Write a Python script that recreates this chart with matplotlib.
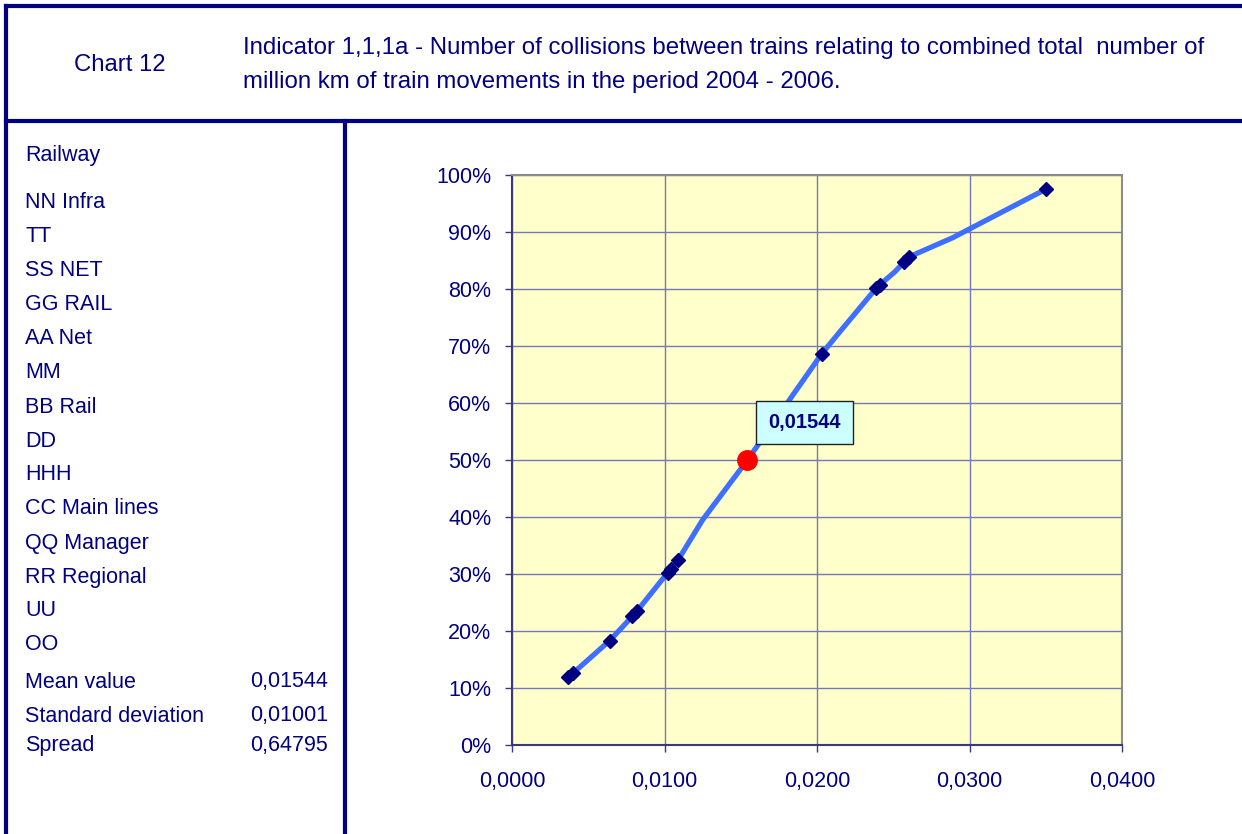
import matplotlib
matplotlib.use('Agg')
import matplotlib.pyplot as plt
from matplotlib.lines import Line2D
from matplotlib.ticker import FuncFormatter, MultipleLocator

plt.rcParams['font.family'] = ['Liberation Sans', 'DejaVu Sans']

navy = '#000080'

railways = ['NN Infra', 'TT', 'SS NET', 'GG RAIL', 'AA Net', 'MM', 'BB Rail',
            'DD', 'HHH', 'CC Main lines', 'QQ Manager', 'RR Regional', 'UU', 'OO']
stat_names = ['Mean value', 'Standard deviation', 'Spread']
stat_values = ['0,01544', '0,01001', '0,64795']

# collisions per million train-km, sorted, and cumulative share (%)
coll_rate = [0.0037, 0.0040, 0.0064, 0.0079, 0.0082, 0.0102, 0.0104,
             0.0109, 0.0203, 0.0239, 0.0241, 0.0257, 0.0260, 0.0350]
cum_share = [12.0, 12.6, 18.3, 22.6, 23.5, 30.2, 30.8,
             32.5, 68.6, 80.2, 80.7, 84.7, 85.6, 97.5]

# vertices of the distribution curve
curve_x = [0.0037, 0.0040, 0.0064, 0.0079, 0.0082, 0.0102, 0.0104, 0.0109,
           0.0125, 0.01544, 0.0180, 0.0203, 0.0215, 0.0239, 0.0241, 0.0251,
           0.0257, 0.0260, 0.0289, 0.0350]
curve_y = [12.0, 12.6, 18.3, 22.6, 23.5, 30.2, 30.8, 32.5,
           39.5, 50.0, 59.8, 68.6, 72.5, 80.2, 80.7, 83.0,
           84.7, 85.6, 89.0, 97.5]

mean_x = 0.01544
mean_y = 50.0

W, H = 1242, 834
fig = plt.figure(figsize=(W / 100, H / 100), dpi=100)


def fx(px):
    return px / W


def fy(py):
    return 1 - py / H


# frame lines
for xs, ys in [((6, W), (6, 6)), ((6, W), (121, 121)), ((6, 6), (6, H)), ((345, 345), (121, H))]:
    fig.add_artist(Line2D([fx(v) for v in xs], [fy(v) for v in ys],
                          color=navy, lw=3, solid_capstyle='projecting'))

fig.text(fx(120), fy(65), 'Chart 12', color=navy, fontsize=17.2, ha='center', va='center')
fig.text(fx(243), fy(48), 'Indicator 1,1,1a - Number of collisions between trains relating to combined total  number of',
         color=navy, fontsize=17.3, ha='left', va='center')
fig.text(fx(243), fy(82), 'million km of train movements in the period 2004 - 2006.',
         color=navy, fontsize=17.3, ha='left', va='center')

fig.text(fx(25), fy(156), 'Railway', color=navy, fontsize=15.5, va='center')
for i, name in enumerate(railways):
    fig.text(fx(25), fy(203 + 34 * i), name, color=navy, fontsize=15.5, va='center')
for name, val, y in zip(stat_names, stat_values, [682, 716, 746]):
    fig.text(fx(25), fy(y), name, color=navy, fontsize=15.5, va='center')
    fig.text(fx(328), fy(y), val, color=navy, fontsize=15.5, va='center', ha='right')

ax = fig.add_axes([fx(512), fy(745), fx(1122) - fx(512), fy(175) - fy(745)])
ax.set_facecolor('#FFFFCC')
ax.set_xlim(0, 0.04)
ax.set_ylim(0, 100)
ax.xaxis.set_major_locator(MultipleLocator(0.01))
ax.yaxis.set_major_locator(MultipleLocator(10))
ax.xaxis.set_major_formatter(FuncFormatter(lambda v, p: f'{v:.4f}'.replace('.', ',')))
ax.yaxis.set_major_formatter(FuncFormatter(lambda v, p: f'{v:.0f}%'))
ax.grid(True, color='#7676BC', lw=1)
ax.set_axisbelow(True)
for s in ['top', 'right']:
    ax.spines[s].set_color('#8C8C8C')
    ax.spines[s].set_linewidth(1.5)
for s in ['left', 'bottom']:
    ax.spines[s].set_color('#3A3A7A')
    ax.spines[s].set_linewidth(1.5)
ax.tick_params(direction='out', length=5, width=1, color='#3A3A7A',
               labelcolor=navy, labelsize=15.5)
ax.tick_params(axis='x', pad=14)
ax.tick_params(axis='y', pad=10)

ax.plot(curve_x, curve_y, color='#3F6FFF', lw=3.8, solid_joinstyle='round',
        solid_capstyle='round', zorder=3)
ax.plot(coll_rate, cum_share, 'D', color=navy, ms=7, zorder=4)
ax.plot([mean_x], [mean_y], 'o', color='#FF0000', ms=14, zorder=5)
ax.annotate(f'{mean_x:.5f}'.replace('.', ','), xy=(mean_x, mean_y),
            xytext=(41, 27), textcoords='offset points', ha='center', va='center',
            fontsize=14.5, fontweight='bold', color=navy, zorder=6,
            bbox=dict(boxstyle='square,pad=0.62', fc='#CCFFFF', ec='#222222', lw=1))

fig.savefig('out.png', dpi=100)
